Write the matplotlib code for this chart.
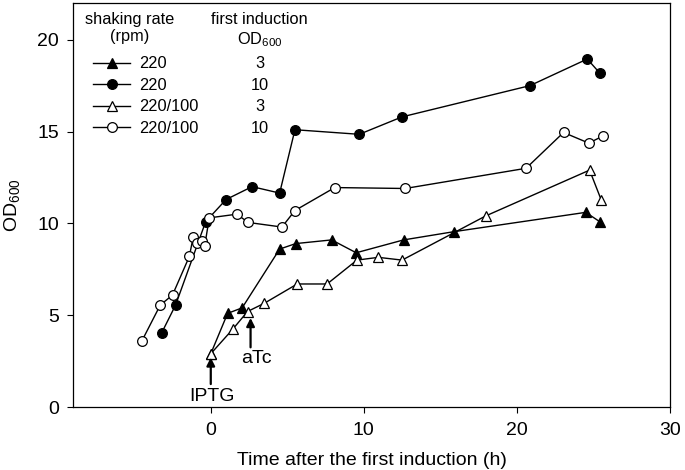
import matplotlib
matplotlib.use('Agg')
import matplotlib.pyplot as plt

plt.rcParams['font.family'] = ['Liberation Sans', 'DejaVu Sans']
plt.rcParams['mathtext.default'] = 'regular'

# 220 rpm, first induction at OD600 = 3
t_220_3 = [0, 1.1, 2.05, 4.5, 5.55, 7.9, 9.5, 12.6, 15.9, 24.5, 25.4]
od_220_3 = [2.9, 5.1, 5.4, 8.6, 8.9, 9.1, 8.4, 9.1, 9.55, 10.6, 10.1]

# 220 rpm, first induction at OD600 = 10
t_220_10 = [-3.2, -2.3, -0.33, 1.0, 2.7, 4.5, 5.5, 9.7, 12.5, 20.85, 24.6, 25.4]
od_220_10 = [4.05, 5.55, 10.1, 11.3, 12.0, 11.65, 15.1, 14.85, 15.8, 17.5, 18.95, 18.2]

# 220/100 rpm, first induction at OD600 = 3
t_shift_3 = [0, 1.45, 2.4, 3.5, 5.65, 7.6, 9.55, 10.95, 12.5, 17.95, 24.75, 25.5]
od_shift_3 = [2.9, 4.25, 5.2, 5.65, 6.7, 6.7, 8.0, 8.15, 8.0, 10.4, 12.9, 11.3]

# 220/100 rpm, first induction at OD600 = 10
t_shift_10 = [-4.5, -3.3, -2.5, -1.4, -1.15, -0.9, -0.6, -0.4, -0.1, 1.7, 2.45,
              4.65, 5.5, 8.1, 12.7, 20.6, 23.05, 24.7, 25.6]
od_shift_10 = [3.6, 5.55, 6.1, 8.2, 9.25, 8.95, 9.05, 8.75, 10.3, 10.5, 10.05,
               9.8, 10.7, 11.95, 11.9, 13.0, 14.95, 14.37, 14.75]

rates = ['220', '220', '220/100', '220/100']
first_od = ['3', '10', '3', '10']

fig = plt.figure(figsize=(6.85, 4.70), dpi=100)
ax = fig.add_axes([0.1066, 0.134, 0.8714, 0.8596])

style = dict(color='black', lw=1.0, ms=7, mec='black', mew=0.9)
h1, = ax.plot(t_220_3, od_220_3, marker='^', mfc='black', **style)
h2, = ax.plot(t_220_10, od_220_10, marker='o', mfc='black', **style)
h3, = ax.plot(t_shift_3, od_shift_3, marker='^', mfc='white', **style)
h4, = ax.plot(t_shift_10, od_shift_10, marker='o', mfc='white', **style)

ax.set_xlim(-9, 30)
ax.set_ylim(0, 22)
ax.set_xticks([0, 10, 20, 30])
ax.set_yticks([0, 5, 10, 15, 20])
ax.tick_params(axis='both', direction='out', length=4, width=0.8,
               labelsize=14, top=False, right=False)
ax.tick_params(axis='y', pad=6)
ax.tick_params(axis='x', pad=7)
for s in ax.spines.values():
    s.set_linewidth(0.9)

ax.set_xlabel('Time after the first induction (h)', fontsize=14, labelpad=9)
ax.set_ylabel('OD$_{600}$', fontsize=14, labelpad=11)

# induction arrows
arrow = dict(arrowstyle='-|>', color='black', lw=1.6, mutation_scale=12, shrinkA=0, shrinkB=0)
ax.annotate('', xy=(0, 2.7), xytext=(0, 1.25), arrowprops=arrow)
ax.text(0.05, 0.6, 'IPTG', ha='center', va='center', fontsize=14)
ax.annotate('', xy=(2.6, 4.85), xytext=(2.6, 3.25), arrowprops=arrow)
ax.text(2.95, 2.65, 'aTc', ha='center', va='center', fontsize=14)

# legend with two columns of text
fs = 11.8
leg = ax.legend([h1, h2, h3, h4], rates, loc='upper left',
                bbox_to_anchor=(0.033, 0.868), frameon=False, fontsize=fs,
                borderpad=0, borderaxespad=0, handlelength=2.3,
                handletextpad=0.55, labelspacing=0.4)
ax.text(0.095, 0.96, 'shaking rate', transform=ax.transAxes, ha='center',
        va='center', fontsize=fs)
ax.text(0.095, 0.916, '(rpm)', transform=ax.transAxes, ha='center',
        va='center', fontsize=fs)
ax.text(0.313, 0.96, 'first induction', transform=ax.transAxes, ha='center',
        va='center', fontsize=fs)
ax.text(0.313, 0.91, 'OD$_{600}$', transform=ax.transAxes, ha='center',
        va='center', fontsize=fs)

# second legend column, aligned with the legend rows
fig.canvas.draw()
inv = ax.transAxes.inverted()
for txt, v in zip(leg.get_texts(), first_od):
    bb = txt.get_window_extent()
    y = inv.transform((0, (bb.y0 + bb.y1) / 2))[1]
    ax.text(0.313, y, v, transform=ax.transAxes, ha='center', va='center',
            fontsize=fs)

fig.savefig('out.png', dpi=100)
